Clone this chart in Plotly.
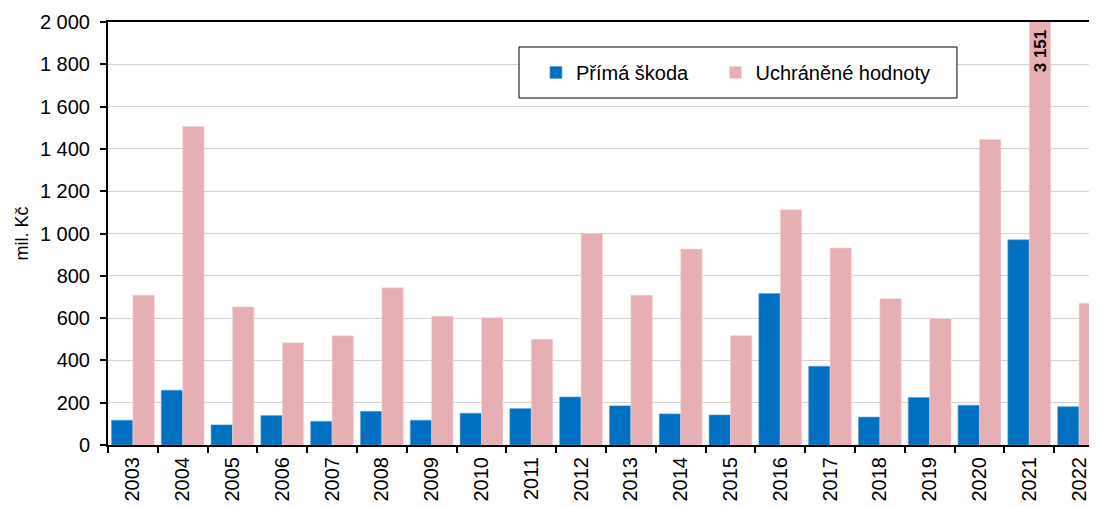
import plotly.graph_objects as go

years = [str(y) for y in range(2003, 2023)]
prima_skoda = [117, 259, 95, 139, 112, 159, 117, 150, 172, 227, 185, 147, 142, 716, 372, 132, 224, 188, 970, 181]
uchranene = [708, 1506, 653, 483, 516, 743, 609, 602, 500, 1000, 708, 927, 517, 1112, 932, 692, 598, 1444, 3151, 670]
y_ticks = list(range(0, 2001, 200))
y_ticktext = [f"{v:,}".replace(",", " ") for v in y_ticks]

BLUE = "#0070C0"
PINK = "#E6AFB3"
FONT = "Arial, Liberation Sans, sans-serif"
NB = "\u00a0"

fig = go.Figure()
fig.add_trace(go.Bar(x=years, y=prima_skoda, name="Přímá škoda" + NB * 4,
                     marker=dict(color=BLUE, line=dict(color="#5A9BD5", width=0.6))))
fig.add_trace(go.Bar(x=years, y=uchranene, name="Uchráněné hodnoty",
                     marker=dict(color=PINK, line=dict(color="#F4D6D8", width=0.6))))

# label for clipped 2021 value (category index on category axis)
idx = years.index("2021")
fig.add_annotation(x=idx, y=2000, xref="x", yref="y",
                   text="<b>" + f"{uchranene[idx]:,}".replace(",", " ") + "</b>",
                   textangle=-90, showarrow=False, xshift=11, yshift=-29,
                   yanchor="middle", xanchor="center",
                   font=dict(family=FONT, size=17, color="black"))

# legend frame
fig.add_shape(type="rect", xref="paper", yref="paper",
              x0=0.4156, x1=0.8584, y0=0.8203, y1=0.9409,
              fillcolor="white", line=dict(color="black", width=1), layer="above")

# page body has an 8px margin: figure offset compensated in size/margins
fig.update_layout(
    width=1089, height=498,
    margin=dict(l=100, r=0, t=14, b=61),
    paper_bgcolor="white", plot_bgcolor="white",
    font=dict(family=FONT, size=20, color="black"),
    barmode="group", bargap=0.14, bargroupgap=0,
    showlegend=True,
    legend=dict(orientation="h", x=0.4327, y=0.8806, xanchor="left", yanchor="middle",
                bgcolor="rgba(0,0,0,0)", borderwidth=0,
                font=dict(family=FONT, size=20, color="black")),
)
fig.update_xaxes(type="category", range=[-0.5, 19.36], automargin=False,
                 showline=True, linecolor="black", linewidth=2, mirror=True,
                 ticks="outside", ticklen=6, tickcolor="black", tickwidth=2,
                 tickson="boundaries", tickangle=-90, showgrid=False,
                 ticklabelstandoff=2,
                 tickfont=dict(family=FONT, size=20, color="black"))
fig.update_yaxes(range=[0, 2000], tickvals=y_ticks, ticktext=y_ticktext, automargin=False,
                 showline=True, linecolor="black", linewidth=2,
                 ticks="outside", ticklen=6, tickcolor="black", tickwidth=2,
                 showgrid=True, gridcolor="#D4D4D4", gridwidth=1, zeroline=False,
                 ticklabelstandoff=6,
                 title=dict(text="mil. Kč", font=dict(family=FONT, size=18, color="black"), standoff=7),
                 tickfont=dict(family=FONT, size=20, color="black"))

fig.write_html("out.html")
